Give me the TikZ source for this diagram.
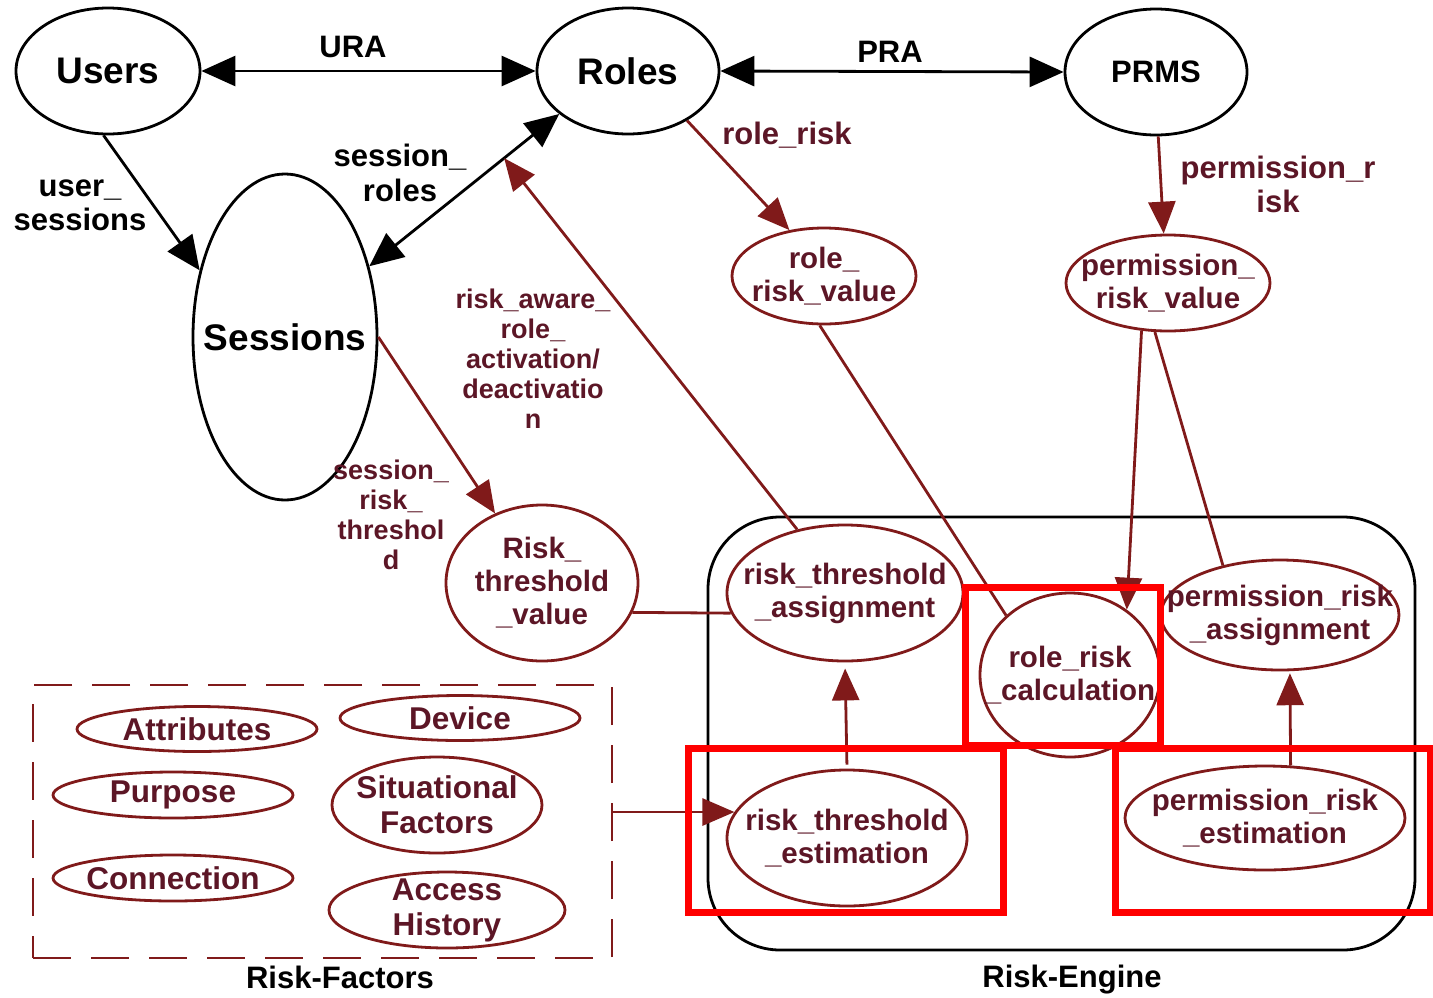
\documentclass[tikz,border=0pt]{standalone}
\usepackage{fontspec}
\setmainfont{Liberation Sans}
\usetikzlibrary{shapes.geometric,arrows.meta,calc}
\definecolor{dred}{RGB}{128,26,26}
\definecolor{dtext}{RGB}{92,22,38}
\definecolor{hired}{RGB}{255,0,0}
\begin{document}
\begin{tikzpicture}[x=1pt,y=-1pt,
  ell/.style={ellipse, draw, line width=2.8pt, inner sep=0pt},
  bell/.style={ell, draw=black},
  rell/.style={ell, draw=dred},
  bigfont/.style={font=\bfseries\fontsize{37}{40}\selectfont},
  midfont/.style={font=\bfseries\fontsize{31}{34}\selectfont},
  smallfont/.style={font=\bfseries\fontsize{27}{30}\selectfont},
  btxt/.style={align=center, inner sep=0pt, text=black},
  rtxt/.style={align=center, inner sep=0pt, text=dtext, font=\bfseries\fontsize{29.5}{33}\selectfont},
  ftxt/.style={align=center, inner sep=0pt, text=dtext, font=\bfseries\fontsize{31.5}{35}\selectfont},
  blbl/.style={align=center, inner sep=0pt, text=black, midfont},
  rlbl/.style={align=center, inner sep=0pt, text=dtext, midfont},
  blk/.style={line width=2.8pt, draw=black},
  rln/.style={line width=2.8pt, draw=dred},
  bhead/.style={-{Triangle[length=34pt,width=30pt]}},
  bdbl/.style={{Triangle[length=34pt,width=30pt]}-{Triangle[length=34pt,width=30pt]}},
  rhead/.style={-{Triangle[length=32pt,width=27pt]}},
  hilite/.style={draw=hired, line width=7pt},
]
\useasboundingbox (0,0) rectangle (1433,997);

% black nodes
\node[bell, minimum width=184pt, minimum height=126pt] (users) at (108,71) {};
\node[bell, minimum width=182pt, minimum height=126pt] (roles) at (628,71) {};
\node[bell, minimum width=182pt, minimum height=126pt] (prms) at (1156,72) {};
\node[bell, minimum width=184pt, minimum height=326pt] (sessions) at (285,337) {};
\node[btxt, bigfont] (usersT) at (users) {Users};
\node[btxt, bigfont] (rolesT) at (roles) {Roles};
\node[btxt, midfont] (prmsT) at (prms) {PRMS};
\node[btxt, bigfont] (sessionsT) at (sessions) {Sessions};

% engine box and risk factor box
\node[draw=black, line width=2.8pt, rounded corners=72pt, minimum width=707pt, minimum height=433pt, inner sep=0pt] (engine) at (1061.5,733.5) {};
\node[draw=dred, line width=1.6pt, dash pattern=on 38pt off 20pt, minimum width=579pt, minimum height=273pt, inner sep=0pt] (rf) at (322.5,821.5) {};

% red nodes
\node[rell, minimum width=184pt, minimum height=96pt] (rrv) at (824,276) {};
\node[rell, minimum width=204pt, minimum height=96pt] (prv) at (1168,283) {};
\node[rell, minimum width=192pt, minimum height=156pt] (rtv) at (542,583) {};
\node[rell, minimum width=236pt, minimum height=136pt] (rta) at (845,593) {};
\node[rell, minimum width=180pt, minimum height=164pt] (rrc) at (1070,675) {};
\node[rell, minimum width=238pt, minimum height=110pt] (pra) at (1280,615) {};
\node[rell, minimum width=240pt, minimum height=136pt] (rte) at (847,838) {};
\node[rell, minimum width=280pt, minimum height=104pt] (pre) at (1265,818) {};
\node[rtxt] (rrvT) at (rrv) {role\_\\risk\_value};
\node[rtxt] (prvT) at (prv) {permission\_\\risk\_value};
\node[rtxt] (rtvT) at (rtv) {Risk\_\\threshold\\\_value};
\node[rtxt] (rtaT) at (rta) {risk\_threshold\\\_assignment};
\node[rtxt] (rrcT) at (rrc) {role\_risk\\\_calculation};
\node[rtxt] (praT) at (pra) {permission\_risk\\\_assignment};
\node[rtxt] (rteT) at (rte) {risk\_threshold\\\_estimation};
\node[rtxt] (preT) at (pre) {permission\_risk\\\_estimation};

% risk factors
\node[rell, minimum width=240pt, minimum height=45pt] (attr) at (197,729) {};
\node[rell, minimum width=240pt, minimum height=45pt] (dev) at (460,718) {};
\node[rell, minimum width=240pt, minimum height=46pt] (purp) at (173,795) {};
\node[rell, minimum width=210pt, minimum height=96pt] (sit) at (437,805) {};
\node[rell, minimum width=240pt, minimum height=46pt] (conn) at (173,878) {};
\node[rell, minimum width=236pt, minimum height=76pt] (acc) at (447,910) {};
\node[ftxt] (attrT) at (attr) {Attributes};
\node[ftxt] (devT) at (dev) {Device};
\node[ftxt] (purpT) at (purp) {Purpose};
\node[ftxt] (sitT) at (sit) {Situational\\Factors};
\node[ftxt] (connT) at (conn) {Connection};
\node[ftxt] (accT) at (acc) {Access\\History};

% labels
\node[blbl] (ural) at (353,47) {URA};
\node[blbl] (pral) at (890,52) {PRA};
\node[blbl] (usl) at (80,205) {user\_\\sessions};
\node[blbl, font=\bfseries\fontsize{31}{35}\selectfont] (srl) at (400,173) {session\_\\roles};
\node[rlbl] (rrl) at (787,135) {role\_risk};
\node[rlbl] (prl) at (1278,184) {permission\_r\\isk};
\node[rlbl, smallfont] (ral) at (533,359) {risk\_aware\_\\role\_\\activation/\\deactivatio\\n};
\node[rlbl, smallfont] (srtl) at (391,515) {session\_\\risk\_\\threshol\\d};
\node[blbl] (rel) at (1072,980) {Risk-Engine};
\node[blbl] (rfl) at (340,977) {Risk-Factors};

% black connectors
\draw[blk, bdbl] (users) -- (roles);
\draw[blk, bdbl] (roles.east) -- (prms.west);
\draw[blk, bhead] (users.266) -- (sessions.142);
\draw[blk, bdbl] (roles.212) -- (sessions.40);

% red connectors
\coordinate (srm) at ($(roles.212)!0.29!(sessions.40)$);
\draw[rln, rhead] (roles.-40) -- (rrv.127);
\draw[rln, rhead] (prms.272) -- (prv.95);
\draw[rln, rhead] (sessions.east) -- (rtv.124);
\draw[rln] (rtv.-18) -- (rta.190);
\draw[rln, rhead] (rta.127) -- (srm);
\draw[rln] (rrv.-95) -- (rrc.137);
\draw[rln, rhead] (prv.241) -- (rrc.49);
\draw[rln] (prv.255) -- (pra.139);
\draw[rln, rhead, shorten <=4pt, shorten >=6pt] (rte.north) -- (rta.south);
\draw[rln, rhead, shorten >=2pt] (pre.64) -- (pra.-80);
\draw[rln, rhead] (rf.east |- rte.167) -- (rte.167);

% highlight rectangles
\draw[hilite] (965,587) rectangle (1160,745);
\draw[hilite] (688,748) rectangle (1003,912);
\draw[hilite] (1115,748) rectangle (1430,912);
\end{tikzpicture}
\end{document}
